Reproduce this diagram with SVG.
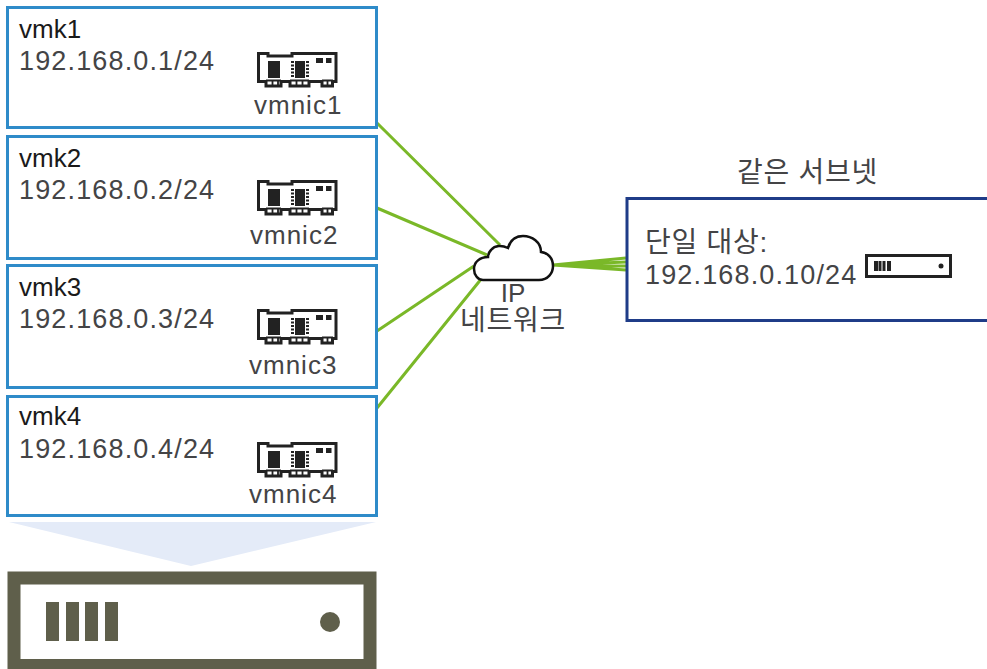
<svg xmlns="http://www.w3.org/2000/svg" xmlns:xlink="http://www.w3.org/1999/xlink" width="987" height="669" viewBox="0 0 987 669">
<style>
text{font-family:"Liberation Sans","Noto Sans CJK KR",sans-serif;font-size:26px;fill:#444446}
.k{fill:#1a1a1a}
.n{font-size:27px;letter-spacing:1.15px}
.v{letter-spacing:1px}
.h{font-size:28px;letter-spacing:.75px}
.box{fill:#fff;stroke:#2e8bc9;stroke-width:3}
.c{fill:none;stroke:#7ab828;stroke-width:3}
.d{fill:#222}
</style>
<defs>
<g id="nic">
<path d="M258.500 53.500H268V56H292V53.500H336V81.500H332.500V86H322V81.500H309V86H290V81.500H281V86H266V81.500H258.500Z" fill="#fff" stroke="#222" stroke-width="3"/>
<rect x="268" y="61" width="12" height="17" class="d"/>
<rect x="295" y="61" width="10" height="17" class="d"/>
<path d="M291 62h3M291 65.500h3M291 69h3M291 72.500h3M291 76h3M306 62h3M306 65.500h3M306 69h3M306 72.500h3M306 76h3" stroke="#222" stroke-width="1.800"/>
<rect x="316" y="58" width="7" height="5" class="d"/>
<rect x="326" y="58" width="5.500" height="5" class="d"/>
<path d="M266 80.500H281M290 80.500H309M322 80.500H333M272.500 81V85M278 81V85M296.500 81V85M302.500 81V85M327.500 81V85" stroke="#222" stroke-width="1.800"/>
</g>
</defs>
<g id="connectors">
<path class="c" d="M377 123L500 245M377 208L487 255M377 331L474 266M377 408L482 278"/>
<path class="c" d="M553 265L626 258M553 265L626 262M553 265L626 266M553 265L626 270"/>
<path d="M9 522H376L191 566Z" fill="#e4ebf8"/>
</g>
<g id="vmk1"><rect class="box" x="7.500" y="7.500" width="369" height="120"/><text class="k" x="19" y="38">vmk1</text><text class="n" x="19" y="70">192.168.0.1/24</text><use xlink:href="#nic"/><text class="v" x="254" y="114">vmnic1</text></g>
<g id="vmk2"><rect class="box" x="7.500" y="136.500" width="369" height="122"/><text class="k" x="19" y="167">vmk2</text><text class="n" x="19" y="199">192.168.0.2/24</text><use xlink:href="#nic" y="128"/><text class="v" x="250" y="244">vmnic2</text></g>
<g id="vmk3"><rect class="box" x="7.500" y="265.500" width="369" height="122"/><text class="k" x="19" y="296">vmk3</text><text class="n" x="19" y="328">192.168.0.3/24</text><use xlink:href="#nic" y="257"/><text class="v" x="249" y="374">vmnic3</text></g>
<g id="vmk4"><rect class="box" x="7.500" y="396.500" width="369" height="119"/><text class="k" x="19" y="425">vmk4</text><text class="n" x="19" y="458">192.168.0.4/24</text><use xlink:href="#nic" y="390"/><text class="v" x="249" y="503">vmnic4</text></g>
<g id="cloud">
<path d="M483 280H539C548 280 553 273 553 266C553 258 548 253 541 252C541 242 532 236 523 236C515 236 510 241 508 248C502 245 495 245 491 250C489 252 488 255 488 257C480 257 474 262 474 269C474 275 478 280 483 280Z" fill="#fff" stroke="#111" stroke-width="2.500"/>
<text x="513" y="302" text-anchor="middle">IP</text><text class="h" x="513" y="330" text-anchor="middle">네트워크</text>
</g>
<g id="target">
<text class="h" x="807.500" y="182" text-anchor="middle">같은 서브넷</text>
<rect x="627" y="198.500" width="362" height="122" fill="#fff" stroke="#1f3c88" stroke-width="3"/>
<text class="h" x="645" y="252">단일 대상:</text><text class="n" x="645" y="284">192.168.0.10/24</text>
<rect x="866.500" y="255.500" width="84" height="21" fill="#fff" stroke="#222" stroke-width="3"/>
<path d="M874 261h4v10h-4zM878.500 261h3v10h-3zM882.500 261h3v10h-3zM887 261h4v10h-4z" class="d"/><circle cx="941" cy="266" r="2.500" class="d"/>
</g>
<g id="host">
<rect x="14" y="578" width="356" height="87.500" fill="#fff" stroke="#5f5f4b" stroke-width="13"/>
<path d="M46 602h13v39h-13zM66 602h13v39h-13zM85 602h13v39h-13zM105 602h13v39h-13z" fill="#5f5f4b"/>
<circle cx="330" cy="622" r="10" fill="#5f5f4b"/>
</g>
</svg>
